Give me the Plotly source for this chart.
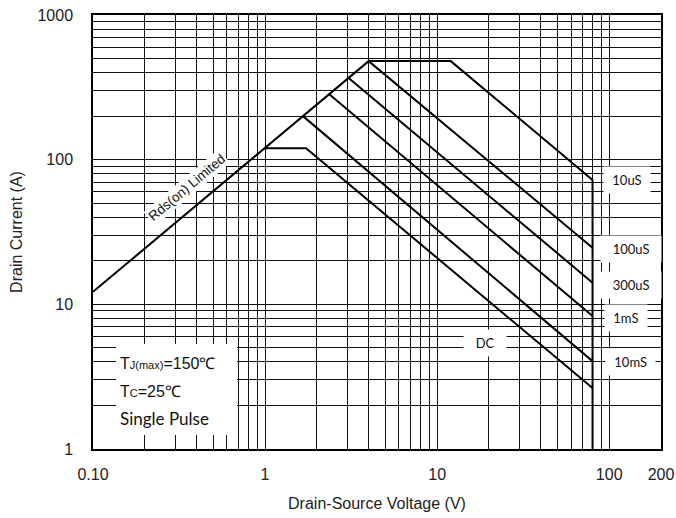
import plotly.graph_objects as go
import math

# ---- data ----
rds_v = [0.1, 4.0]
rds_i = [12.2, 480]

us10_v = [4.0, 12.0, 80, 80]
us10_i = [480, 480, 72.5, 1]

us100_v = [4.0, 80]
us100_i = [480, 24.6]

us300_v = [3.06, 80]
us300_i = [367, 14.1]

ms1_v = [2.37, 80]
ms1_i = [282, 8.3]

ms10_v = [1.66, 80]
ms10_i = [200, 4.05]

dc_v = [1.0, 1.73, 80]
dc_i = [120, 120, 2.64]

x_label_vals = [0.1, 1, 10, 100, 200]
x_label_text = ["0.10", "1", "10", "100", "200"]
y_label_vals = [1, 10, 100, 1000]
y_label_text = ["1", "10", "100", "1000"]

# grid positions: 1..9 per decade
def grid_vals(lo_exp, hi_exp, extra):
    vals = []
    for e in range(lo_exp, hi_exp):
        for m in range(1, 10):
            vals.append(round(m * 10 ** e, 6))
    vals += extra
    return vals

xg = grid_vals(-1, 2, [100])
yg = grid_vals(0, 3, [1000])

fig = go.Figure()
line = dict(color="black", width=2)
for vx, iy in [(rds_v, rds_i), (us10_v, us10_i), (us100_v, us100_i),
               (us300_v, us300_i), (ms1_v, ms1_i), (ms10_v, ms10_i), (dc_v, dc_i)]:
    fig.add_trace(go.Scatter(x=vx, y=iy, mode="lines", line=line,
                             showlegend=False, hoverinfo="skip"))

axis_font = dict(family="Liberation Sans, Arial, sans-serif", size=16, color="#222")
lab_font = dict(family="Lato, Open Sans, sans-serif", size=13, color="#111")
grid_col = "#111111"

fig.update_layout(
    width=676, height=518,
    margin=dict(l=93, r=15, t=15, b=69),
    paper_bgcolor="white", plot_bgcolor="white",
    xaxis=dict(type="log", range=[-1, math.log10(200)],
               tickmode="array", tickvals=x_label_vals, ticktext=x_label_text,
               tickfont=axis_font, tickangle=0, automargin=False,
               showgrid=True, gridcolor=grid_col, gridwidth=1,
               minor=dict(tickmode="array", tickvals=xg, showgrid=True,
                          gridcolor=grid_col, gridwidth=1, ticks=""),
               showline=True, linecolor="black", linewidth=1.5, mirror=True,
               ticks="outside", ticklen=10, tickcolor="rgba(0,0,0,0)",
               zeroline=False,
               title=dict(text="Drain-Source Voltage (V)", font=axis_font, standoff=16)),
    yaxis=dict(type="log", range=[0, 3],
               tickmode="array", tickvals=y_label_vals, ticktext=y_label_text,
               tickfont=axis_font, automargin=False,
               showgrid=True, gridcolor=grid_col, gridwidth=1,
               minor=dict(tickmode="array", tickvals=yg, showgrid=True,
                          gridcolor=grid_col, gridwidth=1, ticks=""),
               showline=True, linecolor="black", linewidth=1.5, mirror=True,
               ticks="outside", ticklen=15, tickcolor="rgba(0,0,0,0)",
               zeroline=False,
               title=dict(text="Drain Current (A)", font=axis_font, standoff=11)),
)

# curve labels (positions in log units)
labels = [
    (" 10uS ", 2.105, 1.859),
    ("  100uS  ", 2.125, 1.382),
    ("  300uS  ", 2.128, 1.134),
    (" 1mS ", 2.099, 0.909),
    (" 10mS ", 2.122, 0.601),
    ("  DC  ", 1.279, 0.733),
]
for t, x, y in labels:
    fig.add_annotation(x=x, y=y, xref="x", yref="y", text=t, showarrow=False,
                       font=lab_font, bgcolor="white", borderpad=5,
                       xanchor="center", yanchor="middle")

fig.add_annotation(x=-0.455, y=1.81, xref="x", yref="y", text="Rds(on) Limited",
                   showarrow=False, textangle=-40, bgcolor="white", borderpad=1,
                   font=dict(family="Liberation Sans, Arial, sans-serif", size=13.5, color="#111"))

# condition box
fig.add_shape(type="rect", xref="paper", yref="paper",
              x0=0.0405, x1=0.2535, y0=0.032, y1=0.242,
              fillcolor="white", line=dict(width=0), layer="above")
box_font = dict(family="Liberation Sans, Arial, sans-serif", size=16, color="#111")
for t, y, f in [("T<span style='font-size:11px'>J(max)</span>=150℃", 0.196, box_font),
                ("T<span style='font-size:11px'>C</span>=25℃", 0.132, box_font),
                ("Single Pulse", 0.0714, dict(family="Lato, Open Sans, sans-serif", size=17, color="#111"))]:
    fig.add_annotation(x=0.0435, y=y, xref="paper", yref="paper", text=t,
                       showarrow=False, xanchor="left", yanchor="middle", font=f)

fig.write_html("out.html")
